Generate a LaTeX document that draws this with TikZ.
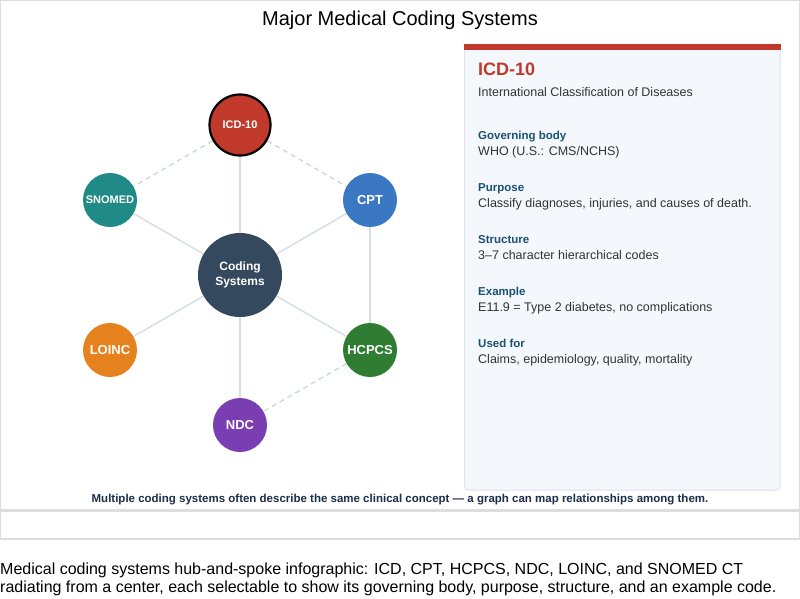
\documentclass[tikz,border=0pt]{standalone}
\usepackage{fontspec}
\setmainfont{Liberation Sans}
\usetikzlibrary{backgrounds}
\definecolor{frameC}{HTML}{DDDDDD}
\definecolor{spokeC}{HTML}{D8DEE6}
\definecolor{dashC}{HTML}{C9D3DD}
\definecolor{icdC}{HTML}{C0392B}
\definecolor{snoC}{HTML}{1F8A86}
\definecolor{cptC}{HTML}{3B78C4}
\definecolor{hcpC}{HTML}{2E7D32}
\definecolor{ndcC}{HTML}{7B3EB2}
\definecolor{loiC}{HTML}{E6821E}
\definecolor{hubC}{HTML}{34495E}
\definecolor{panelC}{HTML}{F4F7FB}
\definecolor{panelB}{HTML}{DCE3EA}
\definecolor{headC}{HTML}{1A5276}
\definecolor{bodyC}{HTML}{333333}
\definecolor{footC}{HTML}{1C2E4A}
\tikzset{
  sysnode/.style={circle, minimum size=54pt, inner sep=0pt, text=white, font=\fontsize{13}{14}\selectfont\bfseries},
  spoke/.style={draw=spokeC, line width=1.5pt},
  xlink/.style={draw=dashC, line width=1.2pt, dash pattern=on 5pt off 4pt},
  sechead/.style={anchor=base west, inner sep=0pt, text=headC, font=\fontsize{11.5}{13}\selectfont\bfseries},
  secval/.style={anchor=base west, inner sep=0pt, text=bodyC, font=\fontsize{12.5}{14}\selectfont},
}
\begin{document}
\begin{tikzpicture}[x=1pt,y=-1pt]
\useasboundingbox (0,0) rectangle (800,598);
\begin{scope}[on background layer]
\fill[white] (0,0) rectangle (800,598);
\end{scope}
% frames
\draw[frameC, line width=1.3pt] (0.7,0.7) rectangle (799.3,509.3);
\draw[frameC, line width=1.3pt] (0.7,511) rectangle (799.3,539);
% title
\node[anchor=base, inner sep=0pt, font=\fontsize{20}{22}\selectfont] (title) at (400,25) {Major Medical Coding Systems};
% nodes
\node[circle, minimum size=84pt, inner sep=0pt, fill=hubC, text=white, align=center, font=\fontsize{12}{15}\selectfont\bfseries] (hub) at (240,275) {Coding\\Systems};
\node[sysnode, fill=icdC, draw=black, line width=2.2pt, minimum size=61pt, font=\fontsize{11}{12}\selectfont\bfseries] (icd) at (240,125) {ICD-10};
\node[sysnode, fill=snoC, font=\fontsize{11}{12}\selectfont\bfseries] (sno) at (110,200) {SNOMED};
\node[sysnode, fill=cptC] (cpt) at (370,200) {CPT};
\node[sysnode, fill=hcpC] (hcp) at (370,350) {HCPCS};
\node[sysnode, fill=ndcC] (ndc) at (240,425) {NDC};
\node[sysnode, fill=loiC] (loi) at (110,350) {LOINC};
% connectors
\begin{scope}[on background layer]
\foreach \n in {icd,sno,cpt,hcp,ndc,loi}{\path[spoke] (hub) -- (\n);}
\path[spoke] (cpt) -- (hcp);
\path[xlink] (icd) -- (sno);
\path[xlink] (icd) -- (cpt);
\path[xlink] (hcp) -- (ndc);
\end{scope}
% panel
\fill[panelC, draw=panelB, line width=1pt, rounded corners=4pt] (464.5,46) rectangle (780,490);
\fill[icdC] (463.5,43.5) rectangle (780.5,49.5);
\node[anchor=base west, inner sep=0pt, text=icdC, font=\fontsize{18}{20}\selectfont\bfseries] (ptitle) at (478,75) {ICD-10};
\node[anchor=base west, inner sep=0pt, text=bodyC, font=\fontsize{12.5}{14}\selectfont] (psub) at (478,96) {International Classification of Diseases};
\node[sechead] (h1) at (478,139.5) {Governing body};
\node[secval] (v1) at (478,155.5) {WHO (U.S.: CMS/NCHS)};
\node[sechead] (h2) at (478,191.5) {Purpose};
\node[secval] (v2) at (478,207.5) {Classify diagnoses, injuries, and causes of death.};
\node[sechead] (h3) at (478,243.5) {Structure};
\node[secval] (v3) at (478,259.5) {3–7 character hierarchical codes};
\node[sechead] (h4) at (478,295.5) {Example};
\node[secval] (v4) at (478,311.5) {E11.9 = Type 2 diabetes, no complications};
\node[sechead] (h5) at (478,347.5) {Used for};
\node[secval] (v5) at (478,363.5) {Claims, epidemiology, quality, mortality};
% footer
\node[anchor=base, inner sep=0pt, text=footC, font=\fontsize{11.5}{13}\selectfont\bfseries] (foot) at (400,502) {Multiple coding systems often describe the same clinical concept — a graph can map relationships among them.};
% caption
\node[anchor=base west, inner sep=0pt, font=\fontsize{16}{19}\selectfont] (cap) at (0,574) {Medical coding systems hub-and-spoke infographic: ICD, CPT, HCPCS, NDC, LOINC, and SNOMED CT};
\node[anchor=base west, inner sep=0pt, font=\fontsize{16}{19}\selectfont] (cap2) at (0,592.5) {radiating from a center, each selectable to show its governing body, purpose, structure, and an example code.};
\end{tikzpicture}
\end{document}
